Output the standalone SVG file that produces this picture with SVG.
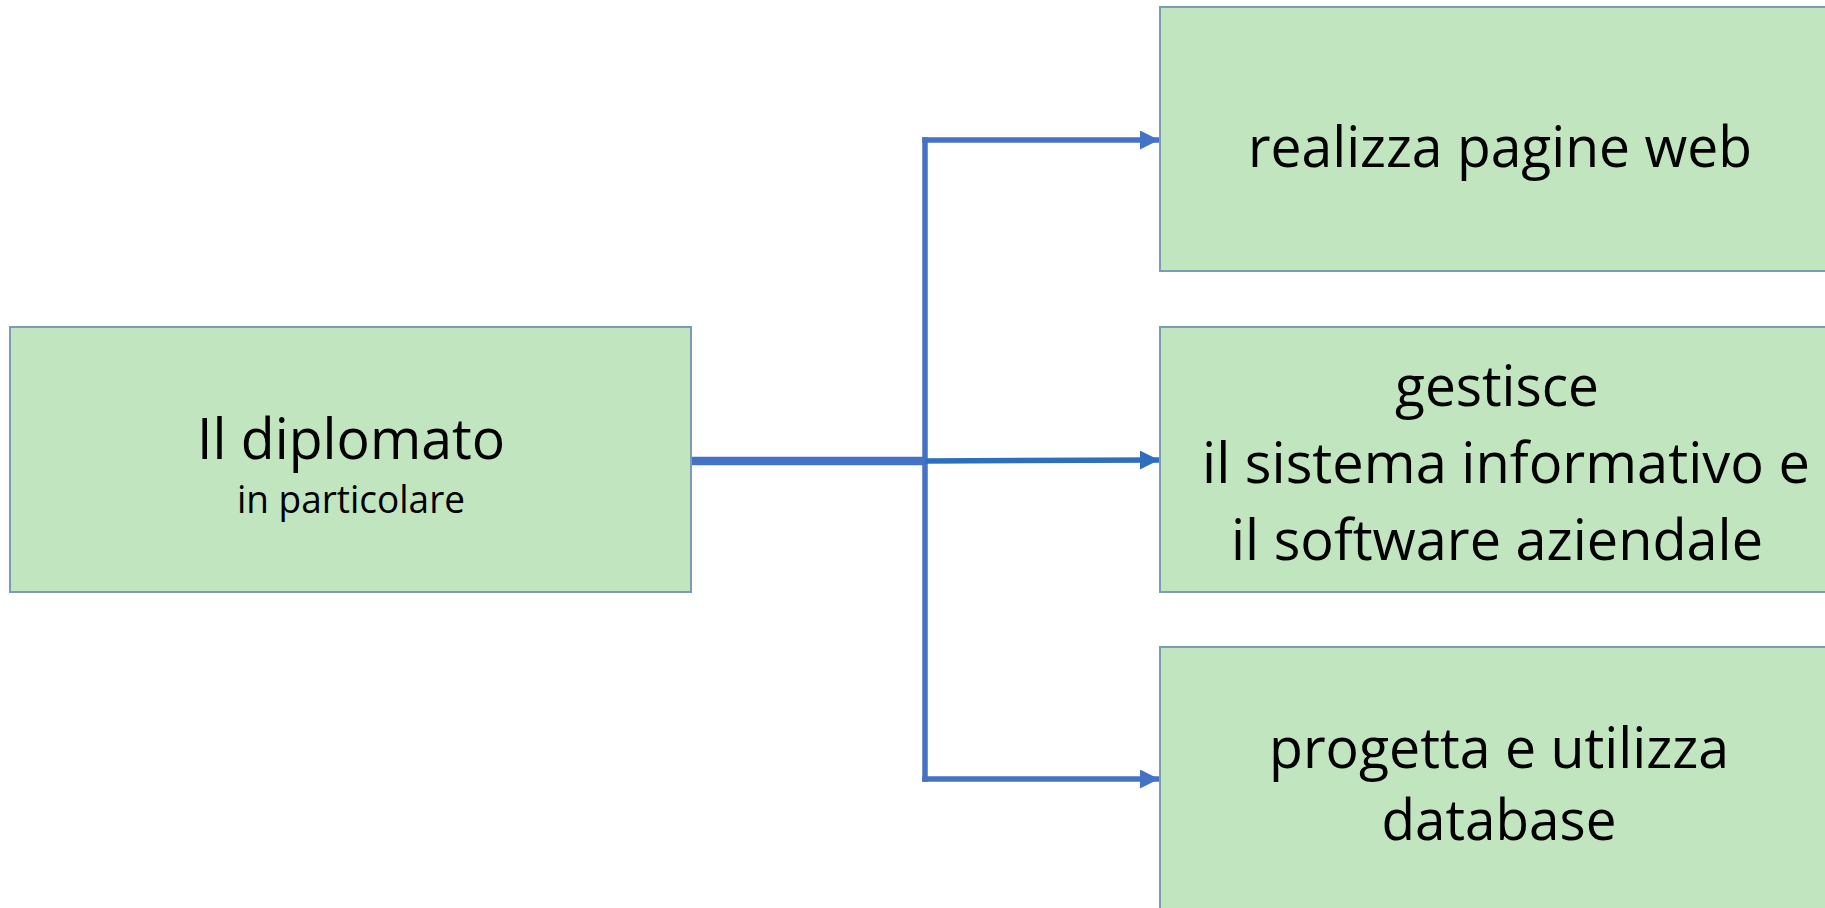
<svg xmlns="http://www.w3.org/2000/svg" width="1825" height="908" viewBox="0 0 1825 908">
<style>
.box{fill:#c0e5bf;stroke:#7b9db4;stroke-width:2}
.t{font-family:"Open Sans","Noto Sans","Liberation Sans",sans-serif;fill:#000;text-anchor:middle}
.big{font-size:57px}
.small{font-size:39px}
.c{fill:none;stroke:#4472c4;stroke-width:5.5}
</style>
<defs>
<marker id="ah" viewBox="0 0 10 10" refX="10" refY="5" markerWidth="19" markerHeight="19" markerUnits="userSpaceOnUse" orient="auto">
<path d="M0,0 L10,5 L0,10 Z" fill="#4472c4"/>
</marker>
<marker id="ah2" viewBox="0 0 10 10" refX="10" refY="5" markerWidth="19" markerHeight="19" markerUnits="userSpaceOnUse" orient="auto">
<path d="M0,0 L10,5 L0,10 Z" fill="#2e6fbd"/>
</marker>
</defs>
<rect width="1825" height="908" fill="#ffffff"/>
<g id="connectors">
<line x1="691" y1="461" x2="925" y2="461" stroke="#4472c4" stroke-width="8.5"/>
<line x1="925" y1="137.25" x2="925" y2="781.75" class="c"/>
<polyline points="922.25,140 1159,140" class="c" marker-end="url(#ah)"/>
<line x1="925" y1="461" x2="1159" y2="460" stroke="#2e6fbd" stroke-width="5.5" marker-end="url(#ah2)"/>
<polyline points="922.25,779 1159,779" class="c" marker-end="url(#ah)"/>
</g>
<g id="node-diplomato">
<rect class="box" x="10" y="327" width="681" height="265"/>
<text class="t big" x="351" y="459" textLength="308" lengthAdjust="spacingAndGlyphs">Il diplomato</text>
<text class="t small" x="351" y="513" textLength="228" lengthAdjust="spacingAndGlyphs">in particolare</text>
</g>
<g id="node-web">
<rect class="box" x="1160" y="7" width="690" height="264"/>
<text class="t big" x="1500" y="167" textLength="504" lengthAdjust="spacingAndGlyphs">realizza pagine web</text>
</g>
<g id="node-sistema">
<rect class="box" x="1160" y="327" width="690" height="265"/>
<text class="t big" x="1497" y="406" textLength="204" lengthAdjust="spacingAndGlyphs">gestisce</text>
<text class="t big" x="1506" y="483" textLength="608" lengthAdjust="spacingAndGlyphs">il sistema informativo e</text>
<text class="t big" x="1497" y="560" textLength="532" lengthAdjust="spacingAndGlyphs">il software aziendale</text>
</g>
<g id="node-database">
<rect class="box" x="1160" y="647" width="690" height="275"/>
<text class="t big" x="1499" y="768" textLength="460" lengthAdjust="spacingAndGlyphs">progetta e utilizza</text>
<text class="t big" x="1499" y="840" textLength="235" lengthAdjust="spacingAndGlyphs">database</text>
</g>
</svg>
